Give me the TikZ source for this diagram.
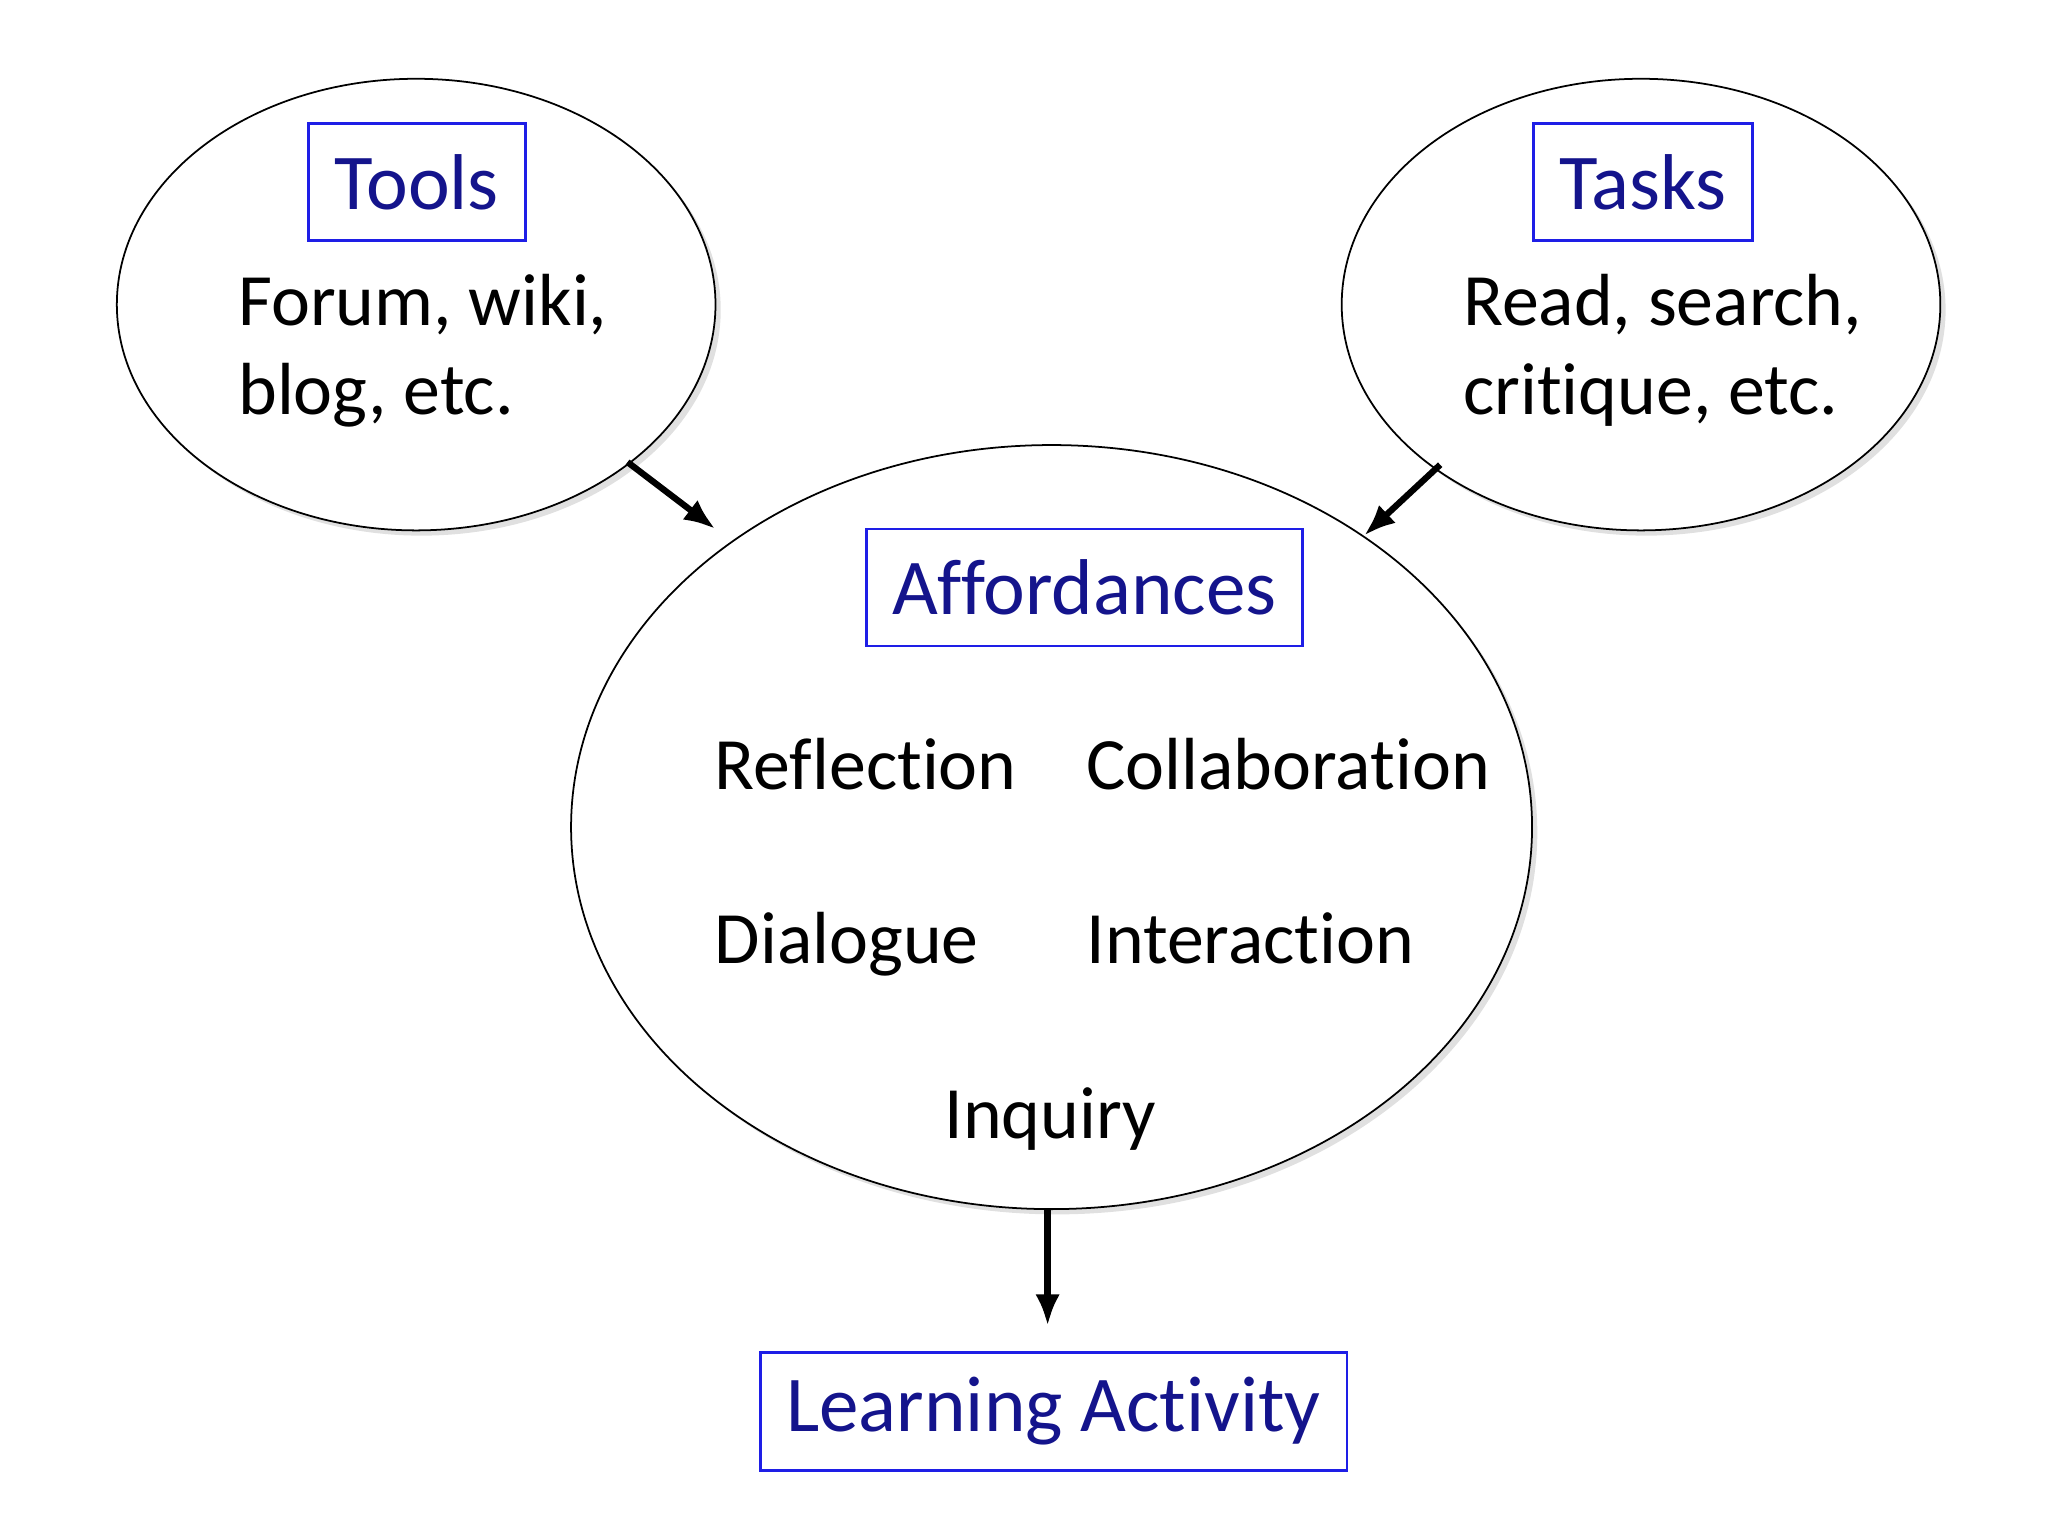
\documentclass[tikz,border=0pt]{standalone}
\usepackage{fontspec}
\setmainfont[Ligatures={NoCommon}]{Carlito}
\usetikzlibrary{arrows.meta}
\definecolor{navyt}{RGB}{20,20,140}
\definecolor{boxb}{RGB}{30,30,230}
\begin{document}
\begin{tikzpicture}[x=0.013128cm,y=-0.013128cm,
  ttl/.style={draw=boxb,line width=0.8pt,text=navyt,font=\fontsize{22.5}{27}\selectfont,inner sep=0pt},
  txt/.style={font=\fontsize{21}{26}\selectfont,anchor=base west,inner sep=0pt},
  arr/.style={-{Latex[length=9pt,width=7pt]},line width=1.8pt}]
\useasboundingbox (0,0) rectangle (1560,1170);
\foreach \c/\rx/\ry in {{(317,232)}/228/172,{(1250,232)}/228/172,{(801,630)}/366/291}
  {\fill[black!12] \c ++(4,4) ellipse [x radius=\rx,y radius=\ry];
   \draw[fill=white,line width=0.5pt] \c ellipse [x radius=\rx,y radius=\ry];}
\node[ttl,minimum width=165*0.013128cm,minimum height=89*0.013128cm] (tools) at (317.5,138.5) {Tools};
\node[ttl,minimum width=167*0.013128cm,minimum height=89*0.013128cm] (tasks) at (1251.5,138.5) {Tasks};
\node[ttl,minimum width=332*0.013128cm,minimum height=89*0.013128cm] (aff) at (826,447.5) {Affordances};
\node[ttl,minimum width=447*0.013128cm,minimum height=90*0.013128cm] (learn) at (802.5,1075) {Learning Activity};
\node[txt] (t1) at (181,248) {Forum, wiki,};
\node[txt] (t2) at (181,316) {blog, etc.};
\node[txt] (k1) at (1114,248) {Read, search,};
\node[txt] (k2) at (1114,316) {critique, etc.};
\node[txt] (a1) at (544,601) {Reflection};
\node[txt] (a2) at (827,601) {Collaboration};
\node[txt] (a3) at (544,734) {Dialogue};
\node[txt] (a4) at (827,734) {Interaction};
\node[txt,anchor=base] (a5) at (800,867) {Inquiry};
\coordinate (s1) at (478,352); \coordinate (e1) at (545,403);
\coordinate (s2) at (1097,354); \coordinate (e2) at (1039,408);
\coordinate (s3) at (798,922); \coordinate (e3) at (798,1010);
\draw[arr] (s1) -- (e1);
\draw[arr] (s2) -- (e2);
\draw[arr] (s3) -- (e3);
\end{tikzpicture}
\end{document}
